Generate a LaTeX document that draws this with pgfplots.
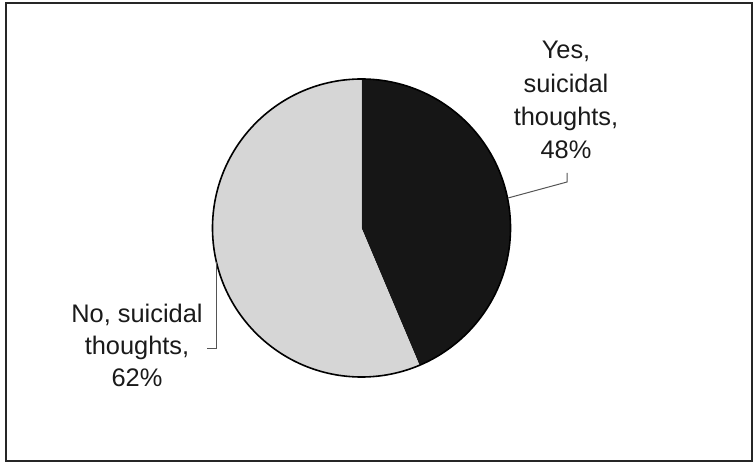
\documentclass[border=0pt]{standalone}
\usepackage{pgfplots}
\usepackage{pgfplotstable}
\pgfplotsset{compat=1.18}
\usepackage{fontspec}
\setmainfont{Liberation Sans}

\definecolor{sliceyes}{HTML}{161616}
\definecolor{sliceno}{HTML}{D6D6D6}
\definecolor{labeltext}{HTML}{1A1A1A}
\definecolor{leader}{HTML}{555555}

% share of respondents per answer
\pgfplotstableread{
label value
Yes 48
No 62
}\piedata

\begin{document}
\begin{tikzpicture}
\pgfplotstablegetelem{0}{value}\of\piedata \let\vyes\pgfplotsretval
\pgfplotstablegetelem{1}{value}\of\piedata \let\vno\pgfplotsretval
\pgfmathsetmacro\total{\vyes+\vno}
\pgfmathsetmacro\angyes{360*(\vyes/\total)}
\pgfmathsetmacro\splitang{90-\angyes}
\begin{axis}[
  x=0.5pt, y=0.5pt,
  xmin=0, xmax=753, ymin=0, ymax=464,
  y dir=reverse,
  hide axis, clip=false,
]
\path (axis cs:0,0) rectangle (axis cs:753,464);
% chart frame
\draw[line width=1pt, black!85] (axis cs:5.5,3.5) rectangle (axis cs:752,461);

% pie slices, clockwise from the top
\fill[sliceyes] (axis cs:361.5,228) -- ++(90:74.5pt)
  arc[start angle=90, end angle=\splitang, radius=74.5pt] -- cycle;
\fill[sliceno] (axis cs:361.5,228) -- ++(\splitang:74.5pt)
  arc[start angle=\splitang, end angle=-270, radius=74.5pt] -- cycle;
\draw[line width=0.8pt, black] (axis cs:361.5,228) ++(90:74.5pt)
  arc[start angle=90, end angle=-270, radius=74.5pt];

% leader lines
\draw[leader, line width=0.5pt] (axis cs:567,173) -- (axis cs:567,182) -- (axis cs:508,198);
\draw[leader, line width=0.5pt] (axis cs:216,262) -- (axis cs:216,348) -- (axis cs:207,348);

% data labels
\begin{scope}[every node/.style={font=\fontsize{12.7}{14}\selectfont, text=labeltext, anchor=base, inner sep=0pt}]
\node at (axis cs:566,59) {Yes,};
\node at (axis cs:566,93) {suicidal};
\node at (axis cs:566,126) {thoughts,};
\node at (axis cs:566,159) {\vyes\%};
\node at (axis cs:137,322) {No, suicidal};
\node at (axis cs:137,354) {thoughts,};
\node at (axis cs:137,386) {\vno\%};
\end{scope}
\end{axis}
\end{tikzpicture}
\end{document}
